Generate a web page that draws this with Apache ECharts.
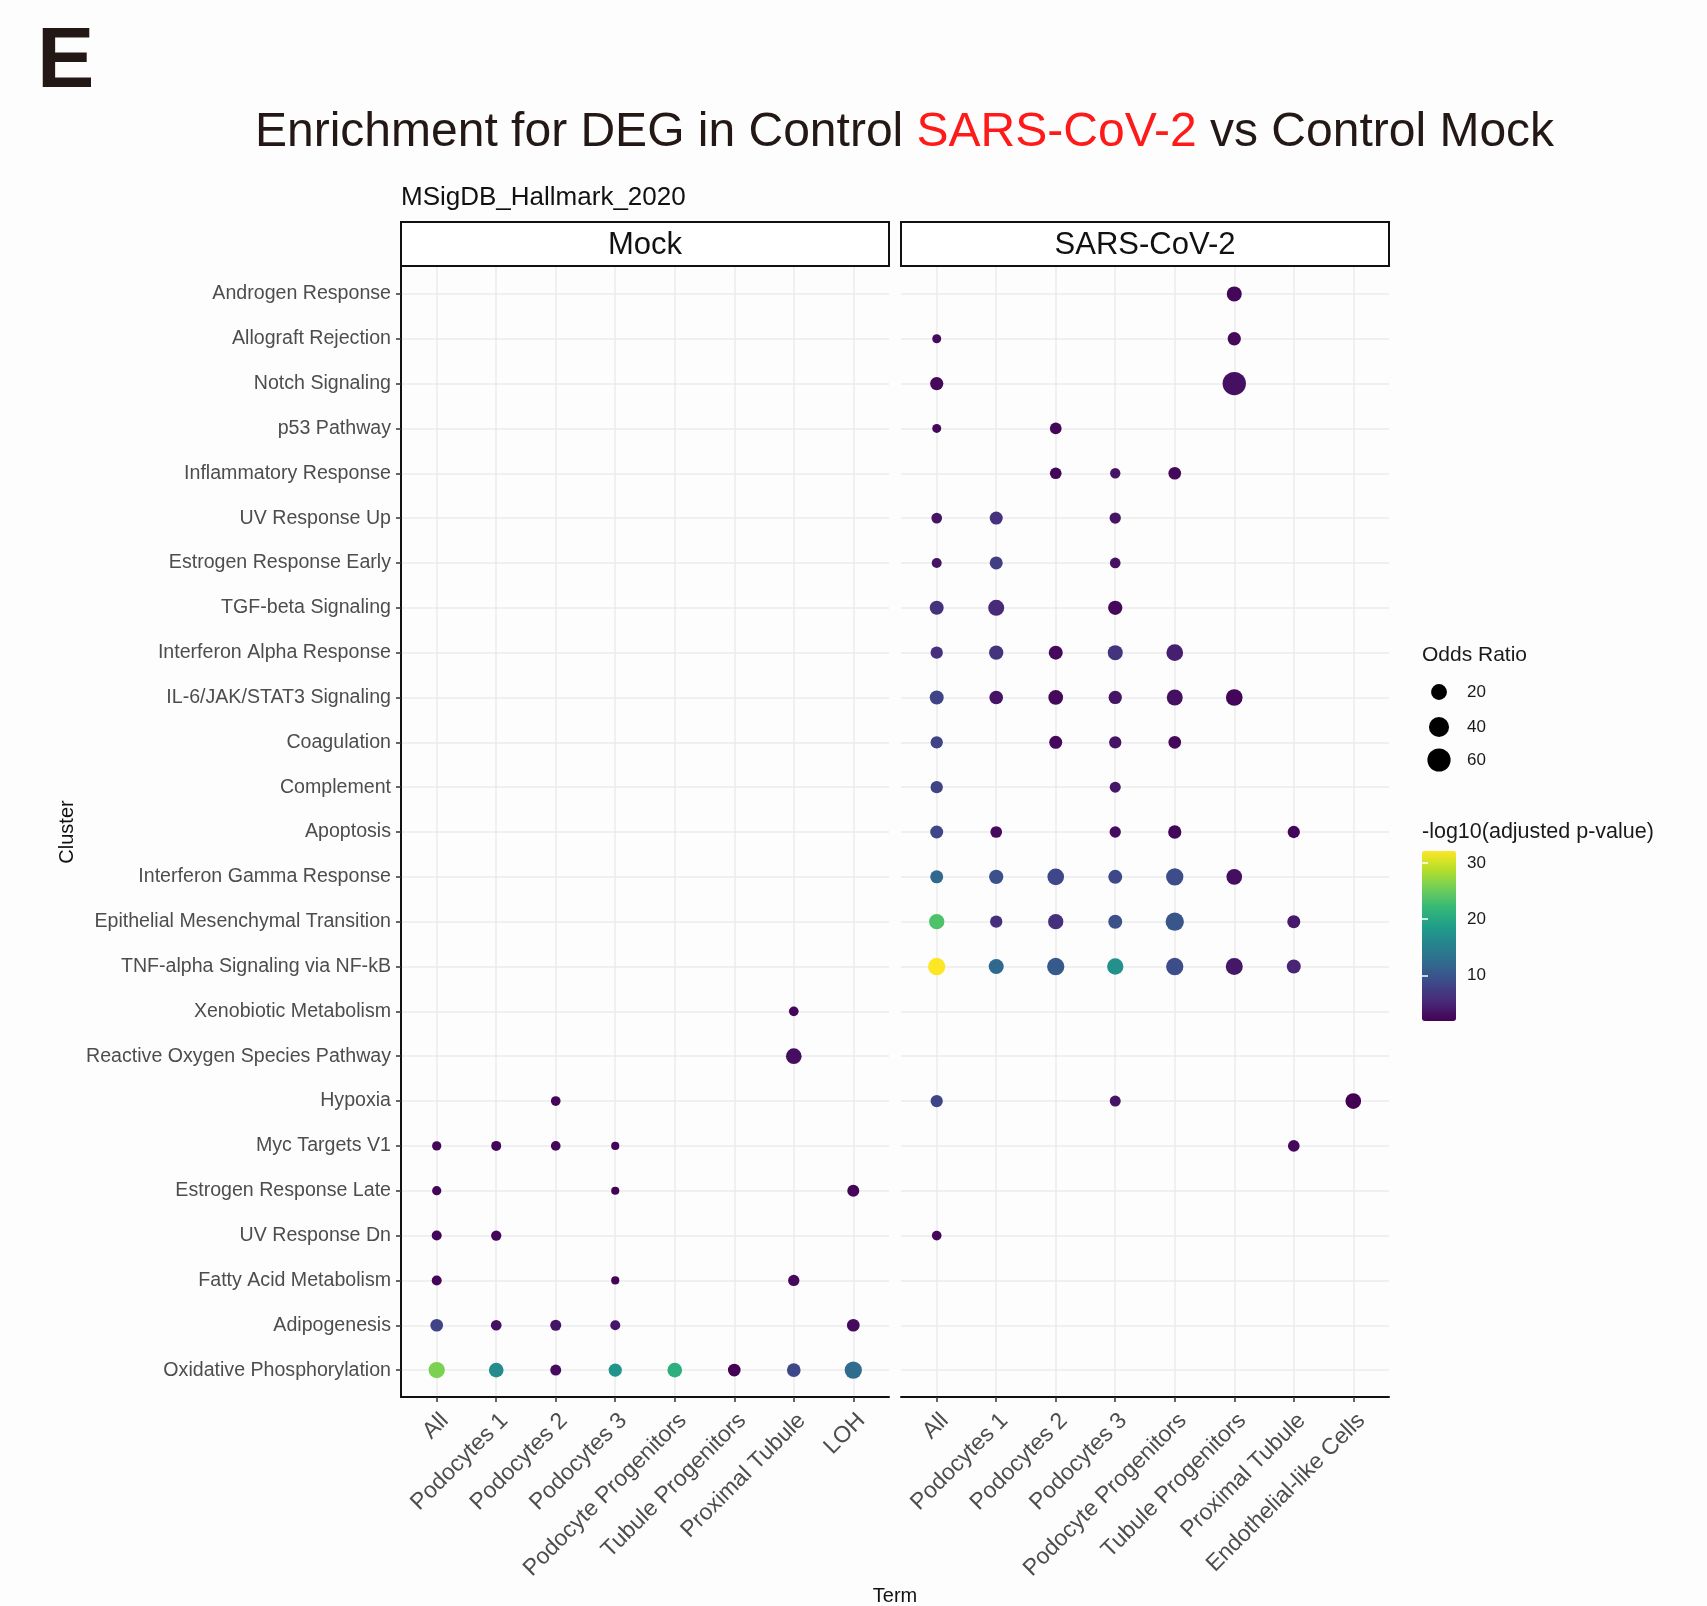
<!DOCTYPE html>
<html>
<head>
<meta charset="utf-8">
<title>Enrichment for DEG in Control SARS-CoV-2 vs Control Mock</title>
<script src="https://cdn.jsdelivr.net/npm/echarts@6/dist/echarts.min.js"></script>
<style>
  html, body { margin: 0; padding: 0; background: #fdfdfd; }
  #chart { width: 1707px; height: 1606px; }
</style>
</head>
<body>
<div id="chart"></div>
<script>
const clusters = [
  'Androgen Response', 'Allograft Rejection', 'Notch Signaling', 'p53 Pathway',
  'Inflammatory Response', 'UV Response Up', 'Estrogen Response Early', 'TGF-beta Signaling',
  'Interferon Alpha Response', 'IL-6/JAK/STAT3 Signaling', 'Coagulation', 'Complement',
  'Apoptosis', 'Interferon Gamma Response', 'Epithelial Mesenchymal Transition',
  'TNF-alpha Signaling via NF-kB', 'Xenobiotic Metabolism', 'Reactive Oxygen Species Pathway',
  'Hypoxia', 'Myc Targets V1', 'Estrogen Response Late', 'UV Response Dn',
  'Fatty Acid Metabolism', 'Adipogenesis', 'Oxidative Phosphorylation'
];
const mockTerms = ['All', 'Podocytes 1', 'Podocytes 2', 'Podocytes 3',
  'Podocyte Progenitors', 'Tubule Progenitors', 'Proximal Tubule', 'LOH'];
const sarsTerms = ['All', 'Podocytes 1', 'Podocytes 2', 'Podocytes 3',
  'Podocyte Progenitors', 'Tubule Progenitors', 'Proximal Tubule', 'Endothelial-like Cells'];

// [term index, cluster index, odds ratio, -log10(adjusted p-value)]
const mockPoints = [
  [6, 16, 5.1, 2.3],
  [6, 17, 19.2, 3.0],
  [2, 18, 5.1, 2.2],
  [0, 19, 4.7, 2.3], [1, 19, 5.4, 2.3], [2, 19, 5.1, 2.3], [3, 19, 4.1, 2.2],
  [0, 20, 4.7, 2.2], [3, 20, 4.1, 2.1], [7, 20, 8.6, 2.2],
  [0, 21, 5.4, 2.3], [1, 21, 5.8, 2.3],
  [0, 22, 5.4, 2.3], [3, 22, 4.1, 2.2], [6, 22, 7.3, 2.5],
  [0, 23, 10.1, 8.0], [1, 23, 6.3, 3.2], [2, 23, 6.8, 3.5], [3, 23, 5.4, 3.8], [7, 23, 10.1, 2.7],
  [0, 24, 21.6, 26], [1, 24, 15.8, 16.5], [2, 24, 6.8, 2.8], [3, 24, 11.6, 17.5],
  [4, 24, 15.8, 21], [5, 24, 10.1, 2.0], [6, 24, 12.7, 8.5], [7, 24, 25.8, 12.5]
];
const sarsPoints = [
  [5, 0, 16.8, 2.4],
  [0, 1, 4.5, 2.7], [5, 1, 11.6, 2.5],
  [0, 2, 11.6, 2.5], [5, 2, 61, 3.2],
  [0, 3, 4.5, 2.5], [2, 3, 8, 2.3],
  [2, 4, 8, 2.3], [3, 4, 5.8, 3.5], [4, 4, 10.1, 2.6],
  [0, 5, 6.3, 3.5], [1, 5, 10.9, 6.2], [3, 5, 7.3, 3.5],
  [0, 6, 5.4, 3.5], [1, 6, 10.9, 7.5], [3, 6, 6.3, 3.3],
  [0, 7, 13.6, 6.3], [1, 7, 20.4, 5.5], [3, 7, 14.5, 2.5],
  [0, 8, 9.2, 6], [1, 8, 14.5, 6.5], [2, 8, 13.6, 2.5], [3, 8, 16.8, 6.5], [4, 8, 23.2, 4.5],
  [0, 9, 13.6, 8], [1, 9, 12.7, 3.5], [2, 9, 15.8, 2.5], [3, 9, 11.6, 3.5], [4, 9, 20.4, 3.2], [5, 9, 23.2, 2.3],
  [0, 10, 9.2, 8], [2, 10, 10.9, 2.5], [3, 10, 9.2, 3.5], [4, 10, 10.1, 2.5],
  [0, 11, 9.2, 8], [3, 11, 6.8, 3.8],
  [0, 12, 10.9, 8.5], [1, 12, 8, 2.7], [3, 12, 7.3, 2.8], [4, 12, 11.6, 2.3], [6, 12, 9.2, 2.3],
  [0, 13, 10.9, 12], [1, 13, 14.5, 9.5], [2, 13, 23.2, 8.5], [3, 13, 13.6, 8.5], [4, 13, 25.8, 9], [5, 13, 19.2, 3],
  [0, 14, 17.8, 23.5], [1, 14, 9.2, 6], [2, 14, 17.8, 6], [3, 14, 13.6, 9.5], [4, 14, 30.4, 10], [6, 14, 10.9, 4],
  [0, 15, 25.8, 32.1], [1, 15, 16.8, 12], [2, 15, 25.8, 10.5], [3, 15, 21.6, 17], [4, 15, 25.8, 9], [5, 15, 24.5, 3.8], [6, 15, 13.6, 5],
  [0, 18, 9.2, 8.3], [3, 18, 6.8, 3.5], [7, 18, 19.2, 1.9],
  [6, 19, 8, 2.5],
  [0, 21, 5.1, 2.3]
];
const oddsLegend = [20, 40, 60];
const pTicks = [10, 20, 30];
const pRange = [1.9, 32.1];
const viridis = ['#440154', '#482878', '#3e4989', '#31688e', '#26828e',
  '#1f9e89', '#35b779', '#6ece58', '#b5de2b', '#fde725'];

const FONT = '"Liberation Sans", Arial, Helvetica, sans-serif';
const panelTop = 267, panelH = 1130, panelW = 488;
const mockLeft = 401, sarsLeft = 901;

// point diameter grows with sqrt of odds ratio (area scale)
function sizeFn(v) {
  return 7.5 + 2.1 * Math.sqrt(Math.max(v - 4, 0));
}

const rowIdx = clusters.map((c, i) => i);
const colIdx = mockTerms.map((c, i) => i);

function xAxisFor(gridIndex, terms) {
  return {
    type: 'value', gridIndex: gridIndex, min: -0.6, max: 7.6,
    axisLine: { show: true, onZero: false, lineStyle: { color: '#111', width: 2 } },
    axisTick: { show: true, customValues: colIdx, length: 5, lineStyle: { color: '#333', width: 1.5 } },
    axisLabel: {
      customValues: colIdx, rotate: 45, margin: 12, verticalAlign: 'top',
      formatter: v => terms[v],
      fontFamily: FONT, fontSize: 23, color: '#4d4d4d'
    },
    splitLine: { show: true, lineStyle: { color: '#ebebeb', width: 1.5 } }
  };
}

function yAxisFor(gridIndex, showAxis) {
  return {
    type: 'value', gridIndex: gridIndex, inverse: true, min: -0.6, max: 24.6,
    axisLine: { show: showAxis, onZero: false, lineStyle: { color: '#111', width: 2 } },
    axisTick: { show: showAxis, customValues: rowIdx, length: 5, lineStyle: { color: '#333', width: 1.5 } },
    axisLabel: {
      show: showAxis, customValues: rowIdx, margin: 10,
      formatter: v => clusters[v],
      fontFamily: FONT, fontSize: 19.6, color: '#4d4d4d'
    },
    splitLine: { show: true, lineStyle: { color: '#ebebeb', width: 1.5 } }
  };
}

const chart = echarts.init(document.getElementById('chart'));

const graphics = [
  { type: 'text', x: 37, y: 63, style: { text: 'E', font: 'bold 86px ' + FONT, fill: '#231815', textVerticalAlign: 'middle', verticalAlign: 'middle' } },
  {
    type: 'text', x: 255, y: 133,
    style: {
      text: '{a|Enrichment for DEG in Control }{r|SARS-CoV-2}{a| vs Control Mock}',
      rich: {
        a: { fontFamily: FONT, fontSize: 48, fill: '#231815', color: '#231815' },
        r: { fontFamily: FONT, fontSize: 48, fill: '#ff1a1a', color: '#ff1a1a' }
      },
      verticalAlign: 'middle', textVerticalAlign: 'middle'
    }
  },
  { type: 'text', x: 401, y: 198, style: { text: 'MSigDB_Hallmark_2020', font: '26px ' + FONT, fill: '#111', textVerticalAlign: 'middle', verticalAlign: 'middle' } },
  { type: 'rect', shape: { x: mockLeft, y: 222, width: panelW, height: 44 }, style: { fill: '#fff', stroke: '#111', lineWidth: 2 } },
  { type: 'rect', shape: { x: sarsLeft, y: 222, width: panelW, height: 44 }, style: { fill: '#fff', stroke: '#111', lineWidth: 2 } },
  { type: 'text', x: mockLeft + panelW / 2, y: 245, style: { text: 'Mock', font: '31px ' + FONT, fill: '#111', textAlign: 'center', align: 'center', textVerticalAlign: 'middle', verticalAlign: 'middle' } },
  { type: 'text', x: sarsLeft + panelW / 2, y: 245, style: { text: 'SARS-CoV-2', font: '31px ' + FONT, fill: '#111', textAlign: 'center', align: 'center', textVerticalAlign: 'middle', verticalAlign: 'middle' } },
  { type: 'text', x: 895, y: 1596, style: { text: 'Term', font: '20px ' + FONT, fill: '#111', textAlign: 'center', align: 'center', textVerticalAlign: 'middle', verticalAlign: 'middle' } },
  { type: 'text', x: 67, y: 832, rotation: Math.PI / 2, style: { text: 'Cluster', font: '20px ' + FONT, fill: '#111', textAlign: 'center', align: 'center', textVerticalAlign: 'middle', verticalAlign: 'middle' } },
  { type: 'text', x: 1422, y: 655, style: { text: 'Odds Ratio', font: '21px ' + FONT, fill: '#1a1a1a', textVerticalAlign: 'middle', verticalAlign: 'middle' } },
  { type: 'text', x: 1422, y: 832, style: { text: '-log10(adjusted p-value)', font: '21.5px ' + FONT, fill: '#1a1a1a', textVerticalAlign: 'middle', verticalAlign: 'middle' } }
];
const legendRowY = [692, 727, 760];
oddsLegend.forEach((v, i) => {
  graphics.push({ type: 'circle', shape: { cx: 1439, cy: legendRowY[i], r: sizeFn(v) / 2 }, style: { fill: '#000' } });
  graphics.push({ type: 'text', x: 1467, y: legendRowY[i], style: { text: String(v), font: '17px ' + FONT, fill: '#1a1a1a', textVerticalAlign: 'middle', verticalAlign: 'middle' } });
});

chart.setOption({
  animation: false,
  backgroundColor: '#fdfdfd',
  grid: [
    { left: mockLeft, top: panelTop, width: panelW, height: panelH },
    { left: sarsLeft, top: panelTop, width: panelW, height: panelH },
    { left: 1422, top: 851, width: 34, height: 170 }
  ],
  xAxis: [
    xAxisFor(0, mockTerms),
    xAxisFor(1, sarsTerms),
    { type: 'value', gridIndex: 2, show: false }
  ],
  yAxis: [
    yAxisFor(0, true),
    yAxisFor(1, false),
    {
      type: 'value', gridIndex: 2, min: pRange[0], max: pRange[1], position: 'right', z: 10,
      axisLine: { show: false },
      axisTick: { show: true, inside: true, customValues: pTicks, length: 6, lineStyle: { color: '#fff', width: 1.5 } },
      axisLabel: { customValues: pTicks, margin: 11, fontFamily: FONT, fontSize: 17, color: '#1a1a1a' },
      splitLine: { show: false }
    },
    {
      type: 'value', gridIndex: 2, min: pRange[0], max: pRange[1], position: 'left', z: 10,
      axisLine: { show: false },
      axisTick: { show: true, inside: true, customValues: pTicks, length: 6, lineStyle: { color: '#fff', width: 1.5 } },
      axisLabel: { show: false },
      splitLine: { show: false }
    }
  ],
  visualMap: {
    type: 'continuous', seriesIndex: [0, 1], dimension: 3,
    min: pRange[0], max: pRange[1], calculable: false,
    left: 1422, top: 851, itemWidth: 34, itemHeight: 170, padding: 0,
    inRange: { color: viridis }
  },
  graphic: graphics,
  series: [
    {
      name: 'Mock', type: 'scatter', xAxisIndex: 0, yAxisIndex: 0,
      data: mockPoints,
      symbolSize: val => sizeFn(val[2]),
      itemStyle: { opacity: 1 }
    },
    {
      name: 'SARS-CoV-2', type: 'scatter', xAxisIndex: 1, yAxisIndex: 1,
      data: sarsPoints,
      symbolSize: val => sizeFn(val[2]),
      itemStyle: { opacity: 1 }
    }
  ]
});
</script>
</body>
</html>
